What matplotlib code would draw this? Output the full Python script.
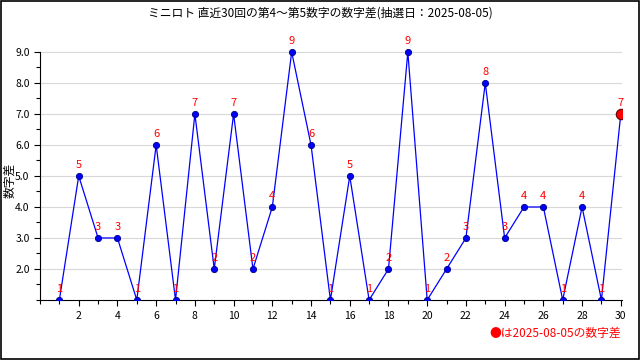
import numpy as np
from matplotlib import pyplot as plt
from matplotlib.patches import Rectangle

plt.rcParams['font.family'] = ['Noto Sans CJK JP', 'DejaVu Sans']

## DATA

draws = list(range(1, 31))
diffs = [1, 5, 3, 3, 1, 6, 1, 7, 2, 7, 2, 4, 9, 6, 1,
         5, 1, 2, 9, 1, 2, 3, 8, 3, 4, 4, 1, 4, 1, 7]
title = 'ミニロト 直近30回の第4～第5数字の数字差(抽選日：2025-08-05)'
latest_date = '2025-08-05'

fig = plt.figure(figsize=(6.4, 3.6), dpi=100)
ax = fig.add_axes([0.0625, 0.1667, 0.909, 0.732])

ax.plot(draws, diffs, color='#0000ff', lw=0.9, marker='o', ms=4.5,
        mfc='#0000ff', mec='#000080', mew=0.6, zorder=3)
ax.plot(draws[-1], diffs[-1], 'o', ms=7.5, mfc='#ff0000', mec='#600000',
        mew=0.8, zorder=4)

for x, y in zip(draws, diffs):
    ax.text(x, y + 0.2, str(y), color='#ff0000', fontsize=8,
            ha='center', va='bottom', zorder=5)

ax.set_xlim(0, 30.05)
ax.set_ylim(1, 9.5)
ax.set_xticks(range(2, 31, 2))
ax.set_xticks(range(0, 31), minor=True)
ax.set_yticks(np.arange(2, 10))
ax.set_yticklabels(['%.1f' % v for v in np.arange(2, 10)])
ax.set_yticks(np.arange(1, 9.1, 0.5), minor=True)
ax.spines['left'].set_bounds(1, 9)
ax.tick_params(labelsize=7.5, length=4, width=0.8, direction='out')
ax.tick_params(which='minor', length=3, width=0.8)
ax.tick_params(axis='x', pad=4)
ax.grid(axis='y', color='#d8d8d8', lw=0.8)
ax.set_axisbelow(True)
for s in ['top', 'right']:
    ax.spines[s].set_visible(False)

fig.text(0.016, 0.5, '数字差', rotation=90, ha='center', va='center', fontsize=8.5)
fig.text(0.5, 0.965, title, ha='center', va='center', fontsize=8.5)
fig.text(0.97, 0.075, '●は%sの数字差' % latest_date, color='#ff0000',
         ha='right', va='center', fontsize=8.5)

fig.patches.append(Rectangle((0.001, 0.002), 0.997, 0.995, transform=fig.transFigure,
                             fill=False, edgecolor='black', lw=1.2))

fig.savefig('out.png', dpi=100)
